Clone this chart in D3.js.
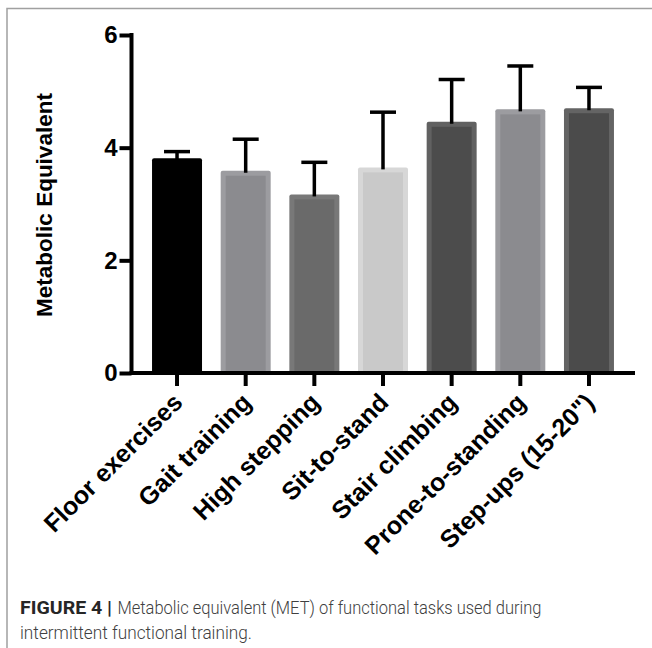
<!DOCTYPE html>
<html>
<head>
<meta charset="utf-8">
<script src="https://cdn.jsdelivr.net/npm/d3@7"></script>
<style>
  body { margin: 0; background: #fff; }
  svg { display: block; }
  .tick text { font-family: "Liberation Sans", Arial, sans-serif; font-weight: bold; }
</style>
</head>
<body>
<div id="chart"></div>
<script>
// Data
const tasks = ["Floor exercises", "Gait training", "High stepping", "Sit-to-stand",
               "Stair climbing", "Prone-to-standing", "Step-ups (15-20\")"];
const metMean = [3.81, 3.59, 3.17, 3.65, 4.46, 4.68, 4.70];
const metUpper = [3.93, 4.15, 3.74, 4.63, 5.21, 5.45, 5.07];
const yTicks = [0, 2, 4, 6];

// Bar colours (edge, inner fill)
const edgeColors = ["#000000", "#9c9ca0", "#787878", "#d7d7d7", "#616161", "#9c9ca0", "#646464"];
const fillColors = ["#000000", "#8b8b8f", "#6a6a6a", "#c9c9c9", "#4c4c4c", "#8b8b8f", "#4b4b4b"];

const W = 652, H = 648;
const axisX = 131.5, axisY = 373, axisEnd = 635;

const svg = d3.select("#chart")
    .append("svg")
    .attr("width", W)
    .attr("height", H);

// Frame
svg.append("path")
    .attr("d", `M7,${H} V8.5 H${W}`)
    .attr("fill", "none")
    .attr("stroke", "#a0a0a0")
    .attr("stroke-width", 1.5);

// Scales
const y = d3.scaleLinear().domain([0, 6]).range([axisY, 35]);
const x = d3.scaleBand()
    .domain(tasks)
    .range([142.7, 623.3])
    .paddingInner(0.272)
    .paddingOuter(0.136);

const data = tasks.map((t, i) => ({ task: t, mean: metMean[i], upper: metUpper[i], edge: edgeColors[i], fill: fillColors[i] }));

// Bars: outer edge colour + inset inner fill
const inset = 5;
svg.selectAll(".bar-edge")
    .data(data)
    .enter()
    .append("rect")
    .attr("class", "bar-edge")
    .attr("x", d => x(d.task))
    .attr("y", d => y(d.mean))
    .attr("width", x.bandwidth())
    .attr("height", d => axisY - y(d.mean))
    .attr("rx", 2)
    .attr("fill", d => d.edge);

svg.selectAll(".bar-fill")
    .data(data)
    .enter()
    .append("rect")
    .attr("class", "bar-fill")
    .attr("x", d => x(d.task) + inset)
    .attr("y", d => y(d.mean) + inset)
    .attr("width", x.bandwidth() - 2 * inset)
    .attr("height", d => axisY - y(d.mean) - inset)
    .attr("fill", d => d.fill);

// Error bars (upper only)
const err = svg.selectAll(".err")
    .data(data)
    .enter()
    .append("g")
    .attr("class", "err");

err.append("line")
    .attr("x1", d => x(d.task) + x.bandwidth() / 2)
    .attr("x2", d => x(d.task) + x.bandwidth() / 2)
    .attr("y1", d => y(d.mean) + 2)
    .attr("y2", d => y(d.upper))
    .attr("stroke", "#000")
    .attr("stroke-width", 3.5);

err.append("line")
    .attr("x1", d => x(d.task) + x.bandwidth() / 2 - 13)
    .attr("x2", d => x(d.task) + x.bandwidth() / 2 + 13)
    .attr("y1", d => y(d.upper))
    .attr("y2", d => y(d.upper))
    .attr("stroke", "#000")
    .attr("stroke-width", 3.5);

// Y axis
const yAxis = svg.append("g")
    .attr("transform", `translate(${axisX},0)`)
    .call(d3.axisLeft(y).tickValues(yTicks).tickFormat(d3.format("d"))
        .tickSize(12).tickSizeOuter(0).tickPadding(2));
yAxis.select(".domain").remove();
yAxis.selectAll(".tick line").attr("stroke", "#000").attr("stroke-width", 4);
yAxis.selectAll(".tick text").attr("font-size", 24).attr("fill", "#000");

svg.append("line")
    .attr("x1", axisX).attr("x2", axisX)
    .attr("y1", y(6) - 2).attr("y2", axisY + 2)
    .attr("stroke", "#000")
    .attr("stroke-width", 4);

// X axis
const xAxis = svg.append("g")
    .attr("transform", `translate(0,${axisY})`)
    .call(d3.axisBottom(x).tickSize(13).tickSizeOuter(0));
xAxis.select(".domain").remove();
xAxis.selectAll(".tick line").attr("stroke", "#000").attr("stroke-width", 4);
xAxis.selectAll(".tick text")
    .attr("font-size", 25)
    .attr("fill", "#000")
    .attr("text-anchor", "end")
    .attr("dy", 0)
    .attr("y", 0)
    .attr("transform", "translate(7,31) rotate(-45)");

svg.append("line")
    .attr("x1", axisX - 2).attr("x2", axisEnd)
    .attr("y1", axisY).attr("y2", axisY)
    .attr("stroke", "#000")
    .attr("stroke-width", 4);

// Y axis title
svg.append("text")
    .attr("transform", "translate(52,205) rotate(-90)")
    .attr("text-anchor", "middle")
    .attr("font-family", "\"Liberation Sans\", Arial, sans-serif")
    .attr("font-weight", "bold")
    .attr("font-size", 22.5)
    .attr("fill", "#000")
    .text("Metabolic Equivalent");

// Caption
const cap = svg.append("g")
    .attr("font-family", "Roboto, \"Liberation Sans\", sans-serif")
    .attr("font-size", 18)
    .attr("fill", "#404040");

cap.append("text")
    .attr("x", 20).attr("y", 614)
    .attr("font-weight", "bold")
    .attr("fill", "#262626")
    .attr("textLength", 92)
    .attr("lengthAdjust", "spacingAndGlyphs")
    .text("FIGURE 4 |");

cap.append("text")
    .attr("x", 117.5).attr("y", 614)
    .attr("font-weight", 300)
    .attr("textLength", 424)
    .attr("lengthAdjust", "spacingAndGlyphs")
    .text("Metabolic equivalent (MET) of functional tasks used during");

cap.append("text")
    .attr("x", 20).attr("y", 639)
    .attr("font-weight", 300)
    .attr("textLength", 232)
    .attr("lengthAdjust", "spacingAndGlyphs")
    .text("intermittent functional training.");
</script>
</body>
</html>
